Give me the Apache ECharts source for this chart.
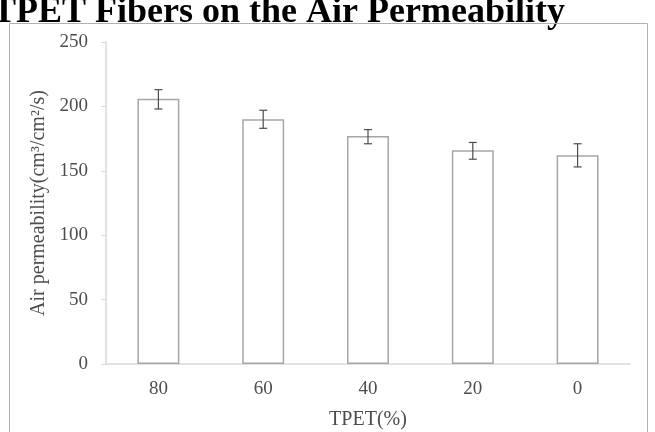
<!DOCTYPE html>
<html>
<head>
<meta charset="utf-8">
<script src="https://cdn.jsdelivr.net/npm/echarts@6/dist/echarts.min.js"></script>
<style>
  html, body { margin: 0; padding: 0; background: #fff; }
  #chart { width: 655px; height: 432px; }
</style>
</head>
<body>
<div id="chart"></div>
<script>
// TPET content categories and measured air permeability
var categories = ['80', '60', '40', '20', '0'];
var permeability = [206, 190, 177, 166, 162];
var errLow = [198, 183, 171, 159, 153];
var errHigh = [213, 197, 182, 172, 171];

var serif = '"Liberation Serif", "DejaVu Serif", serif';
var textGray = '#4d4d4d';

var errData = [];
for (var i = 0; i < categories.length; i++) {
  errData.push([i, errLow[i], errHigh[i]]);
}

var chart = echarts.init(document.getElementById('chart'));
chart.setOption({
  animation: false,
  graphic: [
    {
      type: 'text',
      left: -8,
      top: -5,
      style: {
        text: 'TPET Fibers on the Air Permeability',
        font: 'bold 36px ' + serif,
        fill: '#000'
      }
    },
    {
      type: 'polyline',
      shape: { points: [[9.5, 440], [9.5, 23.5], [647.5, 23.5], [647.5, 440]] },
      style: { stroke: '#b0b0b0', lineWidth: 1, fill: null }
    }
  ],
  grid: { left: 106, right: 25, top: 42, bottom: 68, containLabel: false, outerBoundsMode: 'none' },
  xAxis: {
    type: 'category',
    data: categories,
    name: 'TPET(%)',
    nameLocation: 'middle',
    nameGap: 46,
    nameTextStyle: { fontFamily: serif, fontSize: 20, color: textGray },
    axisLine: { lineStyle: { color: '#d9d9d9', width: 1.5 } },
    axisTick: { show: false },
    axisLabel: { fontFamily: serif, fontSize: 19, color: textGray, margin: 16 }
  },
  yAxis: {
    type: 'value',
    min: 0,
    max: 250,
    interval: 50,
    name: 'Air permeability(cm³/cm²/s)',
    nameLocation: 'middle',
    nameGap: 55,
    nameTextStyle: { fontFamily: serif, fontSize: 20, color: textGray },
    axisLine: { show: true, lineStyle: { color: '#d9d9d9', width: 1.5 } },
    axisTick: { show: true, length: 5, lineStyle: { color: '#d9d9d9' } },
    splitLine: { show: false },
    axisLabel: { fontFamily: serif, fontSize: 19, color: textGray, margin: 18 }
  },
  series: [
    {
      type: 'bar',
      data: permeability,
      barWidth: '40%',
      itemStyle: { color: '#ffffff', borderColor: '#a6a6a6', borderWidth: 1.5 }
    },
    {
      type: 'custom',
      data: errData,
      z: 10,
      renderItem: function (params, api) {
        var x = api.value(0);
        var lo = api.coord([x, api.value(1)]);
        var hi = api.coord([x, api.value(2)]);
        var w = 4;
        var st = { stroke: textGray, lineWidth: 1.2 };
        return {
          type: 'group',
          children: [
            { type: 'line', shape: { x1: hi[0], y1: hi[1], x2: lo[0], y2: lo[1] }, style: st },
            { type: 'line', shape: { x1: hi[0] - w, y1: hi[1], x2: hi[0] + w, y2: hi[1] }, style: st },
            { type: 'line', shape: { x1: lo[0] - w, y1: lo[1], x2: lo[0] + w, y2: lo[1] }, style: st }
          ]
        };
      }
    }
  ]
});
</script>
</body>
</html>
